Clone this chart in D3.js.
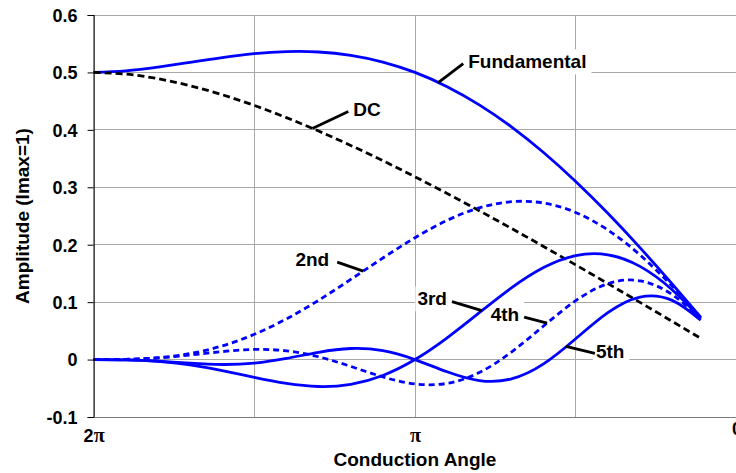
<!DOCTYPE html>
<html>
<head>
<meta charset="utf-8">
<script src="https://cdn.jsdelivr.net/npm/d3@7"></script>
<style>
  html, body { margin: 0; padding: 0; background: #fff; overflow: hidden; }
  svg { display: block; }
  text { font-family: "Liberation Sans", Arial, sans-serif; font-weight: bold; fill: #000; }
</style>
</head>
<body>
<svg id="chart" width="736" height="473"></svg>
<script>
// Conduction angle (degrees), plotted from 2π (360) down to 0
const angles = [360,342,324,306,288,270,252,234,216,198,180,162,144,126,108,90,72,54,36,20];
const dcValues   = [0.5,0.4971,0.4891,0.4769,0.4612,0.4425,0.4213,0.3980,0.3729,0.3463,0.3183,0.2892,0.2592,0.2284,0.1969,0.1649,0.1324,0.0996,0.0666,0.0370];
const fundValues = [0.5,0.5027,0.5092,0.5176,0.5259,0.5326,0.5362,0.5356,0.5298,0.5181,0.5,0.4752,0.4435,0.4052,0.3606,0.3102,0.2547,0.1949,0.1318,0.0738];
const h2Values   = [0,0.0004,0.0032,0.0105,0.0238,0.0440,0.0708,0.1032,0.1395,0.1768,0.2122,0.2424,0.2642,0.2749,0.2726,0.2562,0.2256,0.1822,0.1279,0.0731];
const h3Values   = [0,-0.0004,-0.0031,-0.0094,-0.0193,-0.0311,-0.0416,-0.0469,-0.0431,-0.0277,0,0.0379,0.0816,0.1248,0.1602,0.1811,0.1825,0.1623,0.1217,0.0720];
const h4Values   = [0,0.0004,0.0028,0.0079,0.0139,0.0176,0.0152,0.0049,-0.0119,-0.0302,-0.0424,-0.0414,-0.0226,0.0130,0.0585,0.1025,0.1321,0.1371,0.1133,0.0705];
const h5Values   = [0,-0.0004,-0.0026,-0.0063,-0.0086,-0.0062,0.0020,0.0127,0.0193,0.0155,0,-0.0213,-0.0365,-0.0337,-0.0076,0.0362,0.0816,0.1088,0.1031,0.0686];

const yTicks = [-0.1,0,0.1,0.2,0.3,0.4,0.5,0.6];
const yTickLabels = ["-0.1","0","0.1","0.2","0.3","0.4","0.5","0.6"];
const xGrid = [360,270,180,90,0];
const xTickValues = [360,180,0];
const xTickLabels = ["2π","π","0"];
const seriesNames = ["Fundamental","DC","2nd","3rd","4th","5th"];
const xTitle = "Conduction Angle";
const yTitle = "Amplitude (Imax=1)";

// ---- styling / layout ----
const svg = d3.select("#chart");
const mLeft = 93.6, mRight = 736.4, mTop = 15, mBottom = 417;
const x = d3.scaleLinear().domain([360, 0]).range([mLeft, mRight]);
const y = d3.scaleLinear().domain([-0.1, 0.6]).range([mBottom, mTop]);

const series = [
  {name: "Fundamental", values: fundValues, color: "#0000ff", dash: null},
  {name: "DC", values: dcValues, color: "#000000", dash: "7,4"},
  {name: "2nd", values: h2Values, color: "#0000ff", dash: "6,4"},
  {name: "3rd", values: h3Values, color: "#0000ff", dash: null},
  {name: "4th", values: h4Values, color: "#0000ff", dash: "6,4"},
  {name: "5th", values: h5Values, color: "#0000ff", dash: null}
];

// gridlines
const grid = svg.append("g");
grid.selectAll("line.h").data(yTicks.filter(v => v > -0.1)).join("line")
  .attr("x1", mLeft).attr("x2", 736).attr("y1", d => y(d)).attr("y2", d => y(d))
  .attr("stroke", "#a8a8a8").attr("stroke-width", 1).attr("shape-rendering", "crispEdges");
grid.selectAll("line.v").data(xGrid.filter(v => v < 360)).join("line")
  .attr("x1", d => x(d)).attr("x2", d => x(d)).attr("y1", mTop).attr("y2", mBottom)
  .attr("stroke", "#a8a8a8").attr("stroke-width", 1).attr("shape-rendering", "crispEdges");

// label layer (boxes drawn below curves)
const boxLayer = svg.append("g");

// curves
const line = d3.line().x(d => x(d[0])).y(d => y(d[1])).curve(d3.curveNatural);
svg.append("g").selectAll("path").data(series).join("path")
  .attr("d", s => line(angles.map((a, i) => [a, s.values[i]])))
  .attr("fill", "none")
  .attr("stroke", s => s.color)
  .attr("stroke-width", 2.8)
  .attr("stroke-dasharray", s => s.dash)
  .attr("stroke-linejoin", "round");

// axes
const yAxis = d3.axisLeft(y).tickValues(yTicks).tickSize(6).tickPadding(10)
  .tickFormat((d, i) => yTickLabels[i]);
const gy = svg.append("g").attr("transform", `translate(${mLeft},0)`).call(yAxis);
gy.select(".domain").attr("stroke", "#000").attr("stroke-width", 1.2);
gy.selectAll(".tick line").attr("stroke", "#000");
gy.selectAll(".tick text").attr("font-size", 18).attr("font-family", "Liberation Sans, Arial, sans-serif")
  .attr("font-weight", "bold").attr("fill", "#000").attr("dy", "0.35em");

const xAxis = d3.axisBottom(x).tickValues(xTickValues).tickSize(0).tickPadding(12)
  .tickFormat((d, i) => xTickLabels[i]);
const gx = svg.append("g").attr("transform", `translate(0,${mBottom})`).call(xAxis);
gx.select(".domain").attr("stroke", "#7a7a7a").attr("stroke-width", 1.2);
gx.selectAll(".tick text").each(function(d, i) {
  const t = d3.select(this);
  const label = xTickLabels[i];
  t.text(null).attr("font-size", 18).attr("font-weight", "bold").attr("fill", "#000")
   .attr("font-family", "Liberation Sans, Arial, sans-serif");
  if (label === "0") t.attr("dy", "0.35em");
  for (const ch of label) {
    const sp = t.append("tspan").text(ch);
    if (ch === "π") sp.attr("font-family", "Liberation Serif, serif").attr("font-size", 20);
  }
});

// axis titles
svg.append("text").attr("x", x(180)).attr("y", 466).attr("text-anchor", "middle")
  .attr("font-size", 19).text(xTitle);
svg.append("text").attr("transform", `translate(29,${(mTop + mBottom) / 2}) rotate(-90)`)
  .attr("text-anchor", "middle").attr("font-size", 19).text(yTitle);

// annotations: anchor angle on curve, leader offset, text side
const annotations = [
  {name: "Fundamental", angle: 167, dx: 25, dy: -19, side: "right", gap: 5, padL: 52},
  {name: "DC", angle: 237.5, dx: 36, dy: -17, side: "right", gap: 5, padL: 3},
  {name: "2nd", angle: 209, dx: -26, dy: -9, side: "left", gap: 8, padL: 2},
  {name: "3rd", angle: 142.5, dx: -30, dy: -9, side: "left", gap: 5, padL: 2},
  {name: "4th", angle: 106, dx: -23, dy: -6, side: "left", gap: 5, padL: 2},
  {name: "5th", angle: 95.5, dx: 29, dy: 7, side: "right", gap: 1, padL: 3}
];
function valueAt(values, a) {
  for (let i = 0; i < angles.length - 1; i++) {
    if (a <= angles[i] && a >= angles[i + 1]) {
      const t = (angles[i] - a) / (angles[i] - angles[i + 1]);
      return values[i] + t * (values[i + 1] - values[i]);
    }
  }
  return values[values.length - 1];
}
const annG = svg.append("g");
annotations.forEach(an => {
  const s = series.find(q => q.name === an.name);
  const ax = x(an.angle), ay = y(valueAt(s.values, an.angle));
  const ex = ax + an.dx, ey = ay + an.dy;
  annG.append("line").attr("x1", ax).attr("y1", ay).attr("x2", ex).attr("y2", ey)
    .attr("stroke", "#000").attr("stroke-width", 2.8);
  const tx = an.side === "right" ? ex + an.gap : ex - an.gap;
  const ty = ey + (an.side === "right" ? -2 : -3);
  const txt = annG.append("text").attr("x", tx).attr("y", ty).attr("dy", "0.35em")
    .attr("text-anchor", an.side === "right" ? "start" : "end")
    .attr("font-size", 19).text(an.name);
  const bb = txt.node().getBBox();
  boxLayer.append("rect").attr("x", bb.x - an.padL).attr("y", bb.y - 2)
    .attr("width", bb.width + an.padL + 5).attr("height", bb.height + 4).attr("fill", "#fff");
});
</script>
</body>
</html>
